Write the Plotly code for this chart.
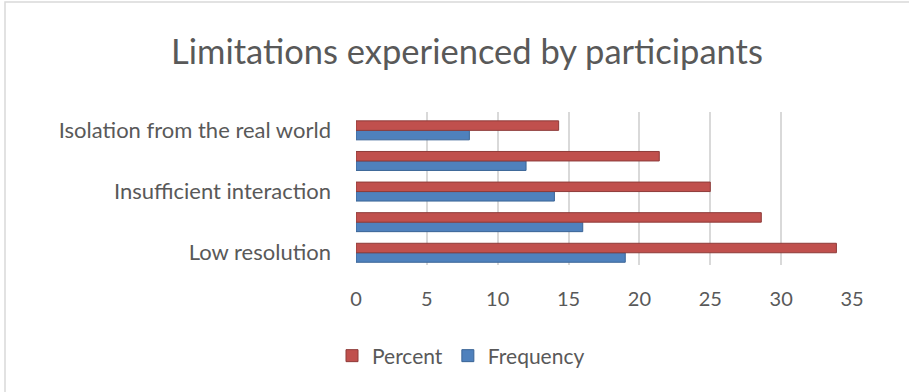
import plotly.graph_objects as go

categories = ["Low resolution", "", "Insufficient interaction", "", "Isolation from the real world"]
percent = [33.9, 28.6, 25.0, 21.4, 14.3]
frequency = [19, 16, 14, 12, 8]
x_ticks = [0, 5, 10, 15, 20, 25, 30, 35]

W, H = 909, 392
L, R, T, B = 356, 57, 112, 127
pos = list(range(len(categories)))
shown = [i for i, c in enumerate(categories) if c]

fig = go.Figure()
fig.add_trace(go.Bar(y=pos, x=frequency, orientation="h", name="Frequency",
                     marker=dict(color="#4F81BD", line=dict(color="#3A6496", width=1))))
fig.add_trace(go.Bar(y=pos, x=percent, orientation="h", name="Percent",
                     marker=dict(color="#C0504D", line=dict(color="#8E3B39", width=1))))

font_fam = "Lato, 'Open Sans', sans-serif"
pw = W - L - R
ph = H - T - B
fig.update_layout(
    width=W, height=H,
    margin=dict(l=L, r=R, t=T, b=B),
    paper_bgcolor="white", plot_bgcolor="white",
    barmode="group", bargap=0.38, bargroupgap=0.0,
    title=dict(text="Limitations experienced by participants", x=467 / W, xanchor="center",
               y=1 - 52 / H, yanchor="middle",
               font=dict(family=font_fam, size=34.5, color="#595959")),
    font=dict(family=font_fam, color="#595959"),
    legend=dict(orientation="h", x=(332 - L) / pw, xanchor="left", y=-(356 - (H - B)) / ph,
                yanchor="middle", traceorder="reversed", font=dict(size=21, color="#595959"),
                itemwidth=30),
    xaxis=dict(range=[0, 35], tickvals=x_ticks, showgrid=True, gridcolor="#D9D9D9", gridwidth=2,
               zeroline=False, showline=False, tickfont=dict(size=20, color="#595959"),
               ticklabelstandoff=20),
    yaxis=dict(range=[-0.4, 4.6], tickvals=shown, ticktext=[categories[i] for i in shown],
               showgrid=False, zeroline=False, showline=False,
               tickfont=dict(size=22, color="#595959"), ticklabelstandoff=24),
    shapes=[dict(type="rect", xref="paper", yref="paper",
                 x0=(5 - L) / pw, x1=(W + 5 - L) / pw,
                 y0=-(H + 5 - T - ph) / ph, y1=1 + (T - 2) / ph,
                 line=dict(color="#D9D9D9", width=1.5), fillcolor="rgba(0,0,0,0)", layer="below")],
)
fig.write_html("out.html")
